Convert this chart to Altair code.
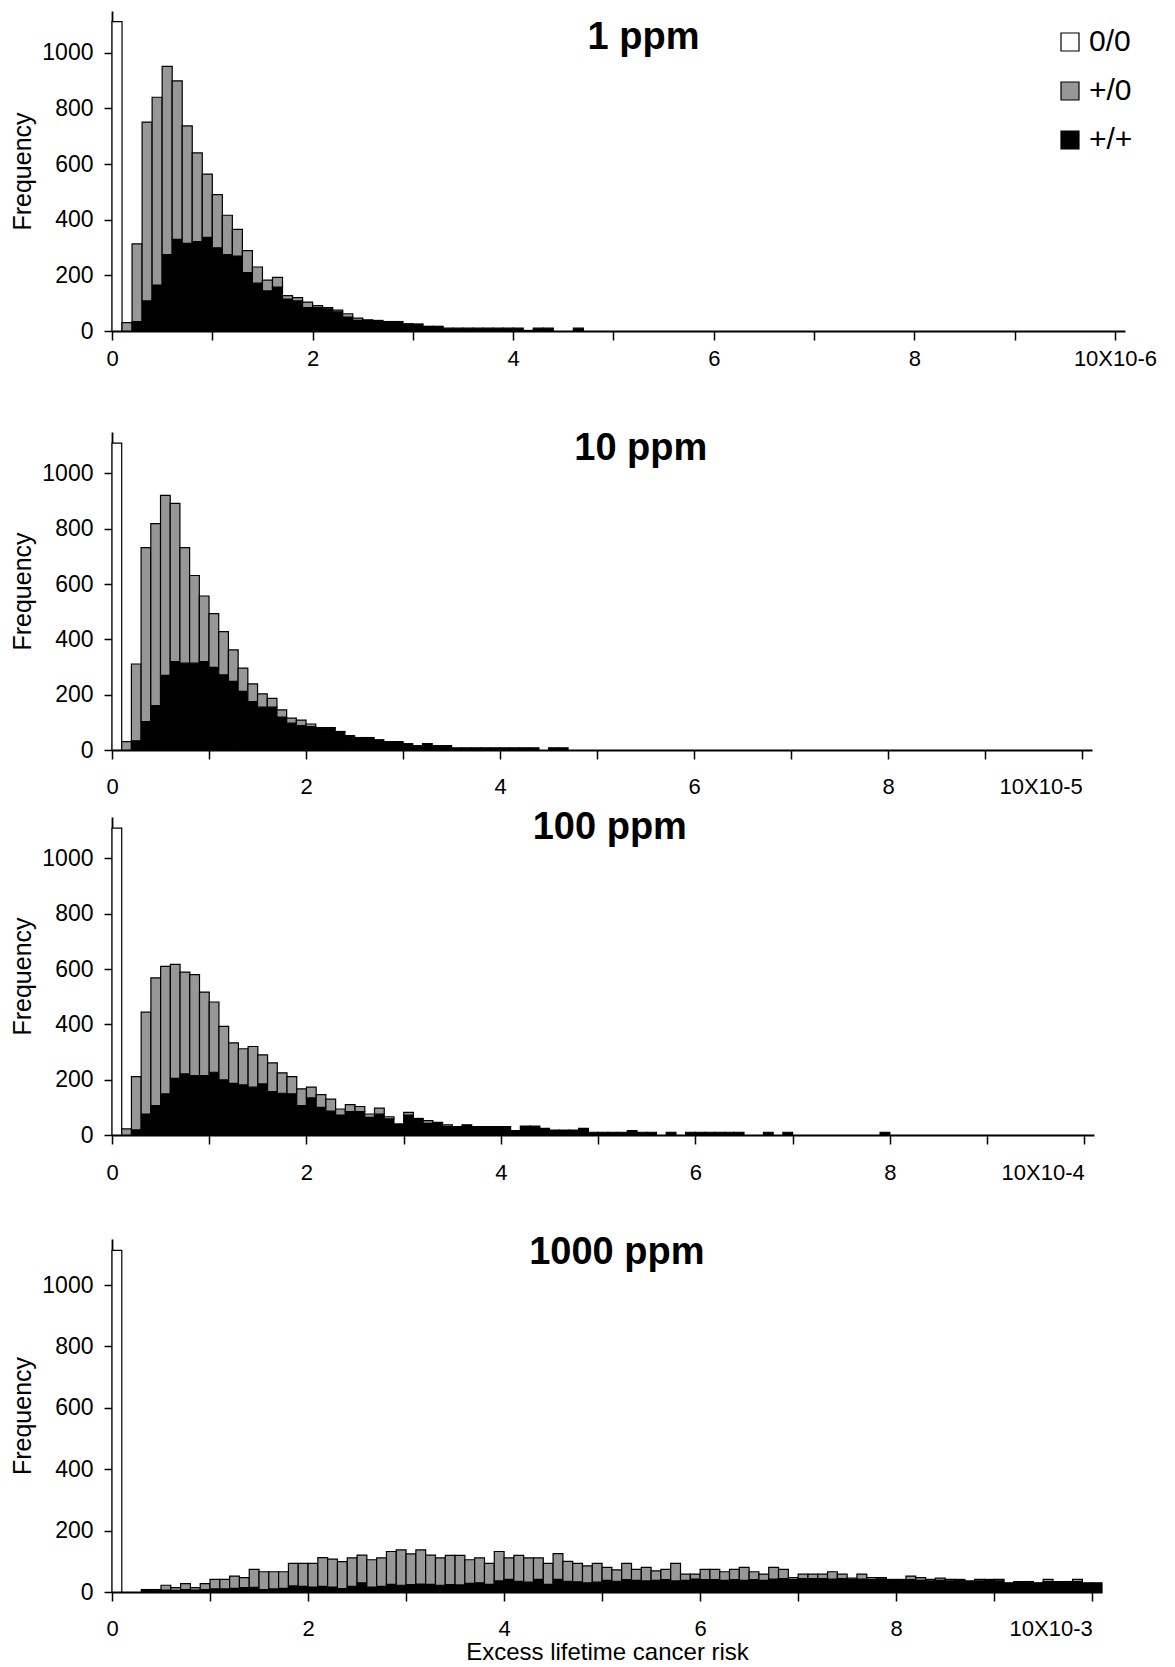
import altair as alt
import pandas as pd

# ---------------- data ----------------
SERIES = ["0/0", "+/0", "+/+"]
COLORS = ["white", "#979797", "black"]
BIN_WIDTH = 0.1
X_LABELS_10 = ["10X10-6", "10X10-5", "10X10-4", "10X10-3"]
TITLES = ["1 ppm", "10 ppm", "100 ppm", "1000 ppm"]

# 0/0 column (first bin) in each panel
zero_zero = [1112, 1110, 1110, 1113]

# totals (+/0 + +/+) for bins 1,2,3,... and the +/+ part of them
p1_total = [30, 313, 751, 840, 951, 899, 737, 640, 564, 490, 416, 365, 289, 230, 183, 193,
            127, 120, 104, 91, 84, 75, 62, 46, 40, 38, 34, 34, 26, 25, 17, 17,
            10, 10, 10, 10, 10, 10, 10, 10, 2, 10, 10, 0, 0, 10]
p1_black = [0, 34, 108, 165, 275, 329, 315, 321, 337, 299, 275, 269, 210, 172, 144, 158,
            115, 108, 84, 84, 79, 69, 50, 38, 38, 37, 32, 32, 25, 24, 16, 16,
            10, 10, 10, 10, 10, 10, 10, 10, 2, 10, 10, 0, 0, 10]

p2_total = [30, 311, 732, 819, 921, 892, 732, 631, 557, 493, 428, 362, 296, 239, 203, 187,
            145, 115, 108, 94, 81, 81, 67, 52, 45, 45, 37, 30, 30, 23, 16, 23,
            16, 16, 8, 8, 8, 8, 8, 8, 8, 8, 8, 0, 8, 8]
p2_black = [0, 33, 103, 161, 270, 320, 314, 314, 320, 299, 272, 248, 212, 175, 155, 155,
            119, 97, 88, 85, 79, 79, 65, 48, 44, 44, 36, 30, 30, 23, 16, 23,
            16, 16, 8, 8, 8, 8, 8, 8, 8, 8, 8, 0, 8, 8]

p3_total = [22, 211, 444, 568, 610, 617, 589, 580, 517, 481, 393, 333, 312, 320, 290, 261,
            225, 211, 167, 173, 146, 130, 94, 110, 103, 76, 97, 66, 40, 82, 60, 52,
            46, 37, 30, 37, 30, 30, 30, 30, 16, 32, 32, 24, 18, 18, 18, 24,
            10, 10, 10, 10, 16, 10, 10, 0, 10, 0, 10, 10, 10, 10, 10, 10,
            0, 0, 10, 0, 10, 0, 0, 0, 0, 0, 0, 0, 0, 0, 10]
p3_black = [0, 19, 76, 106, 149, 205, 221, 215, 215, 227, 199, 187, 181, 173, 185, 157,
            151, 149, 106, 134, 100, 86, 72, 85, 85, 64, 76, 58, 40, 72, 58, 42,
            46, 31, 30, 37, 30, 30, 30, 30, 16, 32, 32, 24, 18, 18, 18, 24,
            10, 10, 10, 10, 16, 10, 10, 0, 10, 0, 10, 10, 10, 10, 10, 10,
            0, 0, 10, 0, 10, 0, 0, 0, 0, 0, 0, 0, 0, 0, 10]

p4_total = [0, 0, 8, 8, 22, 14, 27, 14, 27, 41, 41, 52, 47, 74, 66, 66,
            66, 93, 93, 93, 112, 107, 99, 111, 120, 105, 111, 132, 137, 124, 137, 120,
            111, 119, 119, 105, 111, 93, 132, 111, 119, 111, 111, 93, 125, 100, 93, 85,
            93, 80, 72, 93, 74, 80, 69, 74, 93, 58, 58, 74, 74, 66, 74, 80,
            66, 58, 80, 74, 47, 58, 58, 58, 66, 58, 45, 58, 47, 47, 41, 41,
            52, 47, 41, 45, 41, 41, 36, 41, 41, 41, 30, 34, 34, 30, 41, 34,
            34, 41, 30, 30]
p4_black = [0, 0, 5, 6, 6, 5, 8, 6, 8, 10, 10, 12, 14, 15, 8, 10,
            12, 20, 18, 16, 18, 16, 11, 18, 30, 16, 18, 25, 22, 24, 26, 25,
            22, 24, 23, 28, 30, 25, 36, 41, 35, 32, 41, 25, 41, 35, 33, 30,
            32, 38, 35, 40, 38, 36, 38, 40, 36, 38, 42, 40, 40, 38, 40, 38,
            40, 38, 42, 44, 40, 44, 44, 44, 42, 44, 40, 42, 40, 42, 38, 38,
            40, 38, 36, 38, 36, 38, 32, 36, 38, 36, 28, 30, 32, 28, 34, 30,
            32, 34, 30, 30]

PANELS = [(p1_total, p1_black), (p2_total, p2_black), (p3_total, p3_black), (p4_total, p4_black)]


def build_frame(total, black, zero):
    rows = [dict(x0=0.0, x1=BIN_WIDTH, y0=0, y1=zero, s="0/0")]
    for i, (t, b) in enumerate(zip(total, black), start=1):
        x0 = round(i * BIN_WIDTH, 2)
        x1 = round((i + 1) * BIN_WIDTH, 2)
        if b > 0:
            rows.append(dict(x0=x0, x1=x1, y0=0, y1=b, s="+/+"))
        if t - b > 0:
            rows.append(dict(x0=x0, x1=x1, y0=b, y1=t, s="+/0"))
    return pd.DataFrame(rows)


FONT = "Liberation Sans"

# layout per panel: plot width, plot height, empty band above the axis,
# title anchor (in the panel's data units), x-label padding, alignment of the last label
LAYOUT = [
    dict(width=1013, height=320, extra=0, tx=5.3, ty=1012, lpad=8, last="center"),
    dict(width=980, height=318, extra=101, tx=5.45, ty=1050, lpad=17, last="right"),
    dict(width=982, height=318, extra=67, tx=5.12, ty=1070, lpad=18, last="right"),
    dict(width=990, height=353, extra=104, tx=5.15, ty=1070, lpad=17, last="right"),
]


def make_panel(k):
    total, black = PANELS[k]
    df = build_frame(total, black, zero_zero[k])
    lay = LAYOUT[k]
    full_h = lay["height"] + lay["extra"]
    lab10 = X_LABELS_10[k]
    legend = None
    if k == 0:
        legend = alt.Legend(
            title=None, orient="none", legendX=943, legendY=16,
            symbolType="square", symbolSize=324, symbolStrokeColor="black",
            symbolStrokeWidth=1.2, symbolOpacity=1, labelFontSize=30, labelFont=FONT,
            labelColor="black", labelOffset=4, rowPadding=19, padding=0,
        )
    x_axis = alt.Axis(
        values=list(range(11)), format="d",
        labelExpr=f"datum.value == 10 ? '{lab10}' : (datum.value % 2 == 0 ? datum.label : '')",
        labelAlign={"condition": {"test": "datum.value == 10", "value": lay["last"]}, "value": "center"},
        grid=False, tickSize=9, tickWidth=1.5, tickColor="black",
        domainColor="black", domainWidth=1.8, labelFontSize=22, labelFont=FONT,
        labelColor="black", labelPadding=lay["lpad"], labelFlush=False, labelOverlap=False,
        title="Excess lifetime cancer risk" if k == 3 else None,
        titleFontSize=24, titleFont=FONT, titleFontWeight="normal", titleColor="black",
        titlePadding=1,
    )
    y_axis = alt.Axis(
        values=[0, 200, 400, 600, 800, 1000], format="d", grid=False, tickSize=8, tickWidth=1.5,
        tickColor="black", domainColor="black", domainWidth=1.8, labelFontSize=23,
        labelFont=FONT, labelColor="black", labelPadding=11, title="Frequency",
        titleFontSize=25, titleFont=FONT, titleFontWeight="normal", titleColor="black",
        titlePadding=6,
    )
    x_scale = alt.Scale(domain=[0, 10.1], nice=False, zero=False)
    y_scale = alt.Scale(domain=[0, 1150], nice=False, range=[full_h, lay["extra"]])
    bars = alt.Chart(df).mark_rect(stroke="black", strokeWidth=1.2, opacity=1).encode(
        x=alt.X("x0:Q", scale=x_scale, axis=x_axis),
        x2="x1",
        y=alt.Y("y1:Q", scale=y_scale, axis=y_axis),
        y2="y0",
        color=alt.Color("s:N", scale=alt.Scale(domain=SERIES, range=COLORS), legend=legend),
    )
    title = alt.Chart(pd.DataFrame({"t": [TITLES[k]]})).mark_text(
        font=FONT, fontSize=38, fontWeight="bold", color="black",
        align="center", baseline="alphabetic",
    ).encode(
        x=alt.datum(lay["tx"]),
        y=alt.datum(lay["ty"]),
        text="t:N",
    )
    return alt.layer(bars, title).properties(width=lay["width"], height=full_h)


chart = alt.vconcat(
    *[make_panel(k) for k in range(4)], spacing=0, bounds="flush"
).resolve_scale(
    color="independent", x="independent", y="independent"
).properties(
    padding={"left": 10, "top": 11, "right": 4, "bottom": 0},
    background="white",
).configure_view(stroke=None)

chart.save("out.html", embed_options={"renderer": "svg", "actions": False})
